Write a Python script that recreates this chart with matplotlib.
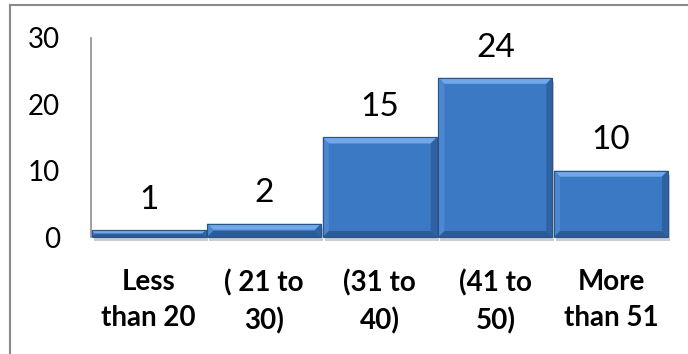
import matplotlib
matplotlib.use("Agg")
import matplotlib.pyplot as plt
from matplotlib.lines import Line2D
from matplotlib.patches import Polygon, Rectangle

categories = ["Less\nthan 20", "( 21 to\n30)", "(31 to\n40)", "(41 to\n50)", "More\nthan 51"]
values = [1, 2, 15, 24, 10]
yticks = [0, 10, 20, 30]

plt.rcParams["font.family"] = ["Lato", "DejaVu Sans"]

fig = plt.figure(figsize=(6.88, 3.54), dpi=100)
ax = fig.add_axes([0.132, 0.3305, 0.840, 0.5622])
ax.patch.set_visible(False)

x = list(range(len(categories)))
width = 0.985
face = "#3C79C4"
edge = "#2A5488"

bars = ax.bar(x, values, width=width, color=face, edgecolor=edge, linewidth=0.8, zorder=2)
ax.set_xlim(-0.5, 4.5)
ax.set_ylim(0, 30)

# bevel edges and drop shadow, in pixel units from each bar's data extent
fig.canvas.draw()
for b in bars:
    (x0, y0), (x1, y1) = ax.transData.transform(
        [(b.get_x(), 0), (b.get_x() + b.get_width(), b.get_height())])
    bev = min(6.0, (y1 - y0) / 2.0)
    fig.add_artist(Rectangle((x0 + 2, y0 - 4), x1 - x0, y1 - y0, transform=None,
                             facecolor="#9a9a9a", edgecolor="none", alpha=0.5, zorder=-1))
    faces = [
        ([(x0, y1), (x1, y1), (x1 - bev, y1 - bev), (x0 + bev, y1 - bev)], "#72A8E8"),
        ([(x0, y0), (x0, y1), (x0 + bev, y1 - bev), (x0 + bev, y0 + bev)], "#4C88D2"),
        ([(x1, y0), (x1, y1), (x1 - bev, y1 - bev), (x1 - bev, y0 + bev)], "#2F62A2"),
        ([(x0, y0), (x1, y0), (x1 - bev, y0 + bev), (x0 + bev, y0 + bev)], "#2C5C98"),
    ]
    for pts, col in faces:
        fig.add_artist(Polygon(pts, closed=True, transform=None, facecolor=col,
                               edgecolor="none", zorder=3))
    fig.add_artist(Rectangle((x0, y0), x1 - x0, y1 - y0, transform=None, facecolor="none",
                             edgecolor=edge, linewidth=0.8, zorder=4))

for xi, v in zip(x, values):
    ax.annotate(str(v), (xi, v), xytext=(0, 11), textcoords="offset points",
                ha="center", va="bottom", fontsize=24, color="black")

ax.set_yticks(yticks)
ax.set_yticklabels([str(t) for t in yticks], fontsize=20)
ax.set_xticks(x)
ax.set_xticklabels(categories, fontsize=20, fontweight="bold", linespacing=1.5)
ax.tick_params(axis="x", length=0, pad=23)
ax.tick_params(axis="y", length=0, pad=22)

for side in ("top", "right", "bottom"):
    ax.spines[side].set_visible(False)
ax.spines["left"].set_color("#8c8c8c")
ax.spines["left"].set_linewidth(1.2)

# chart-area frame (top and left edges)
fig.add_artist(Line2D([10 / 688, 10 / 688], [0, 1 - 5 / 354], color="#8a8a8a", linewidth=1.5))
fig.add_artist(Line2D([10 / 688, 1], [1 - 5 / 354, 1 - 5 / 354], color="#8a8a8a", linewidth=1.5))

fig.savefig("out.png", dpi=100)
